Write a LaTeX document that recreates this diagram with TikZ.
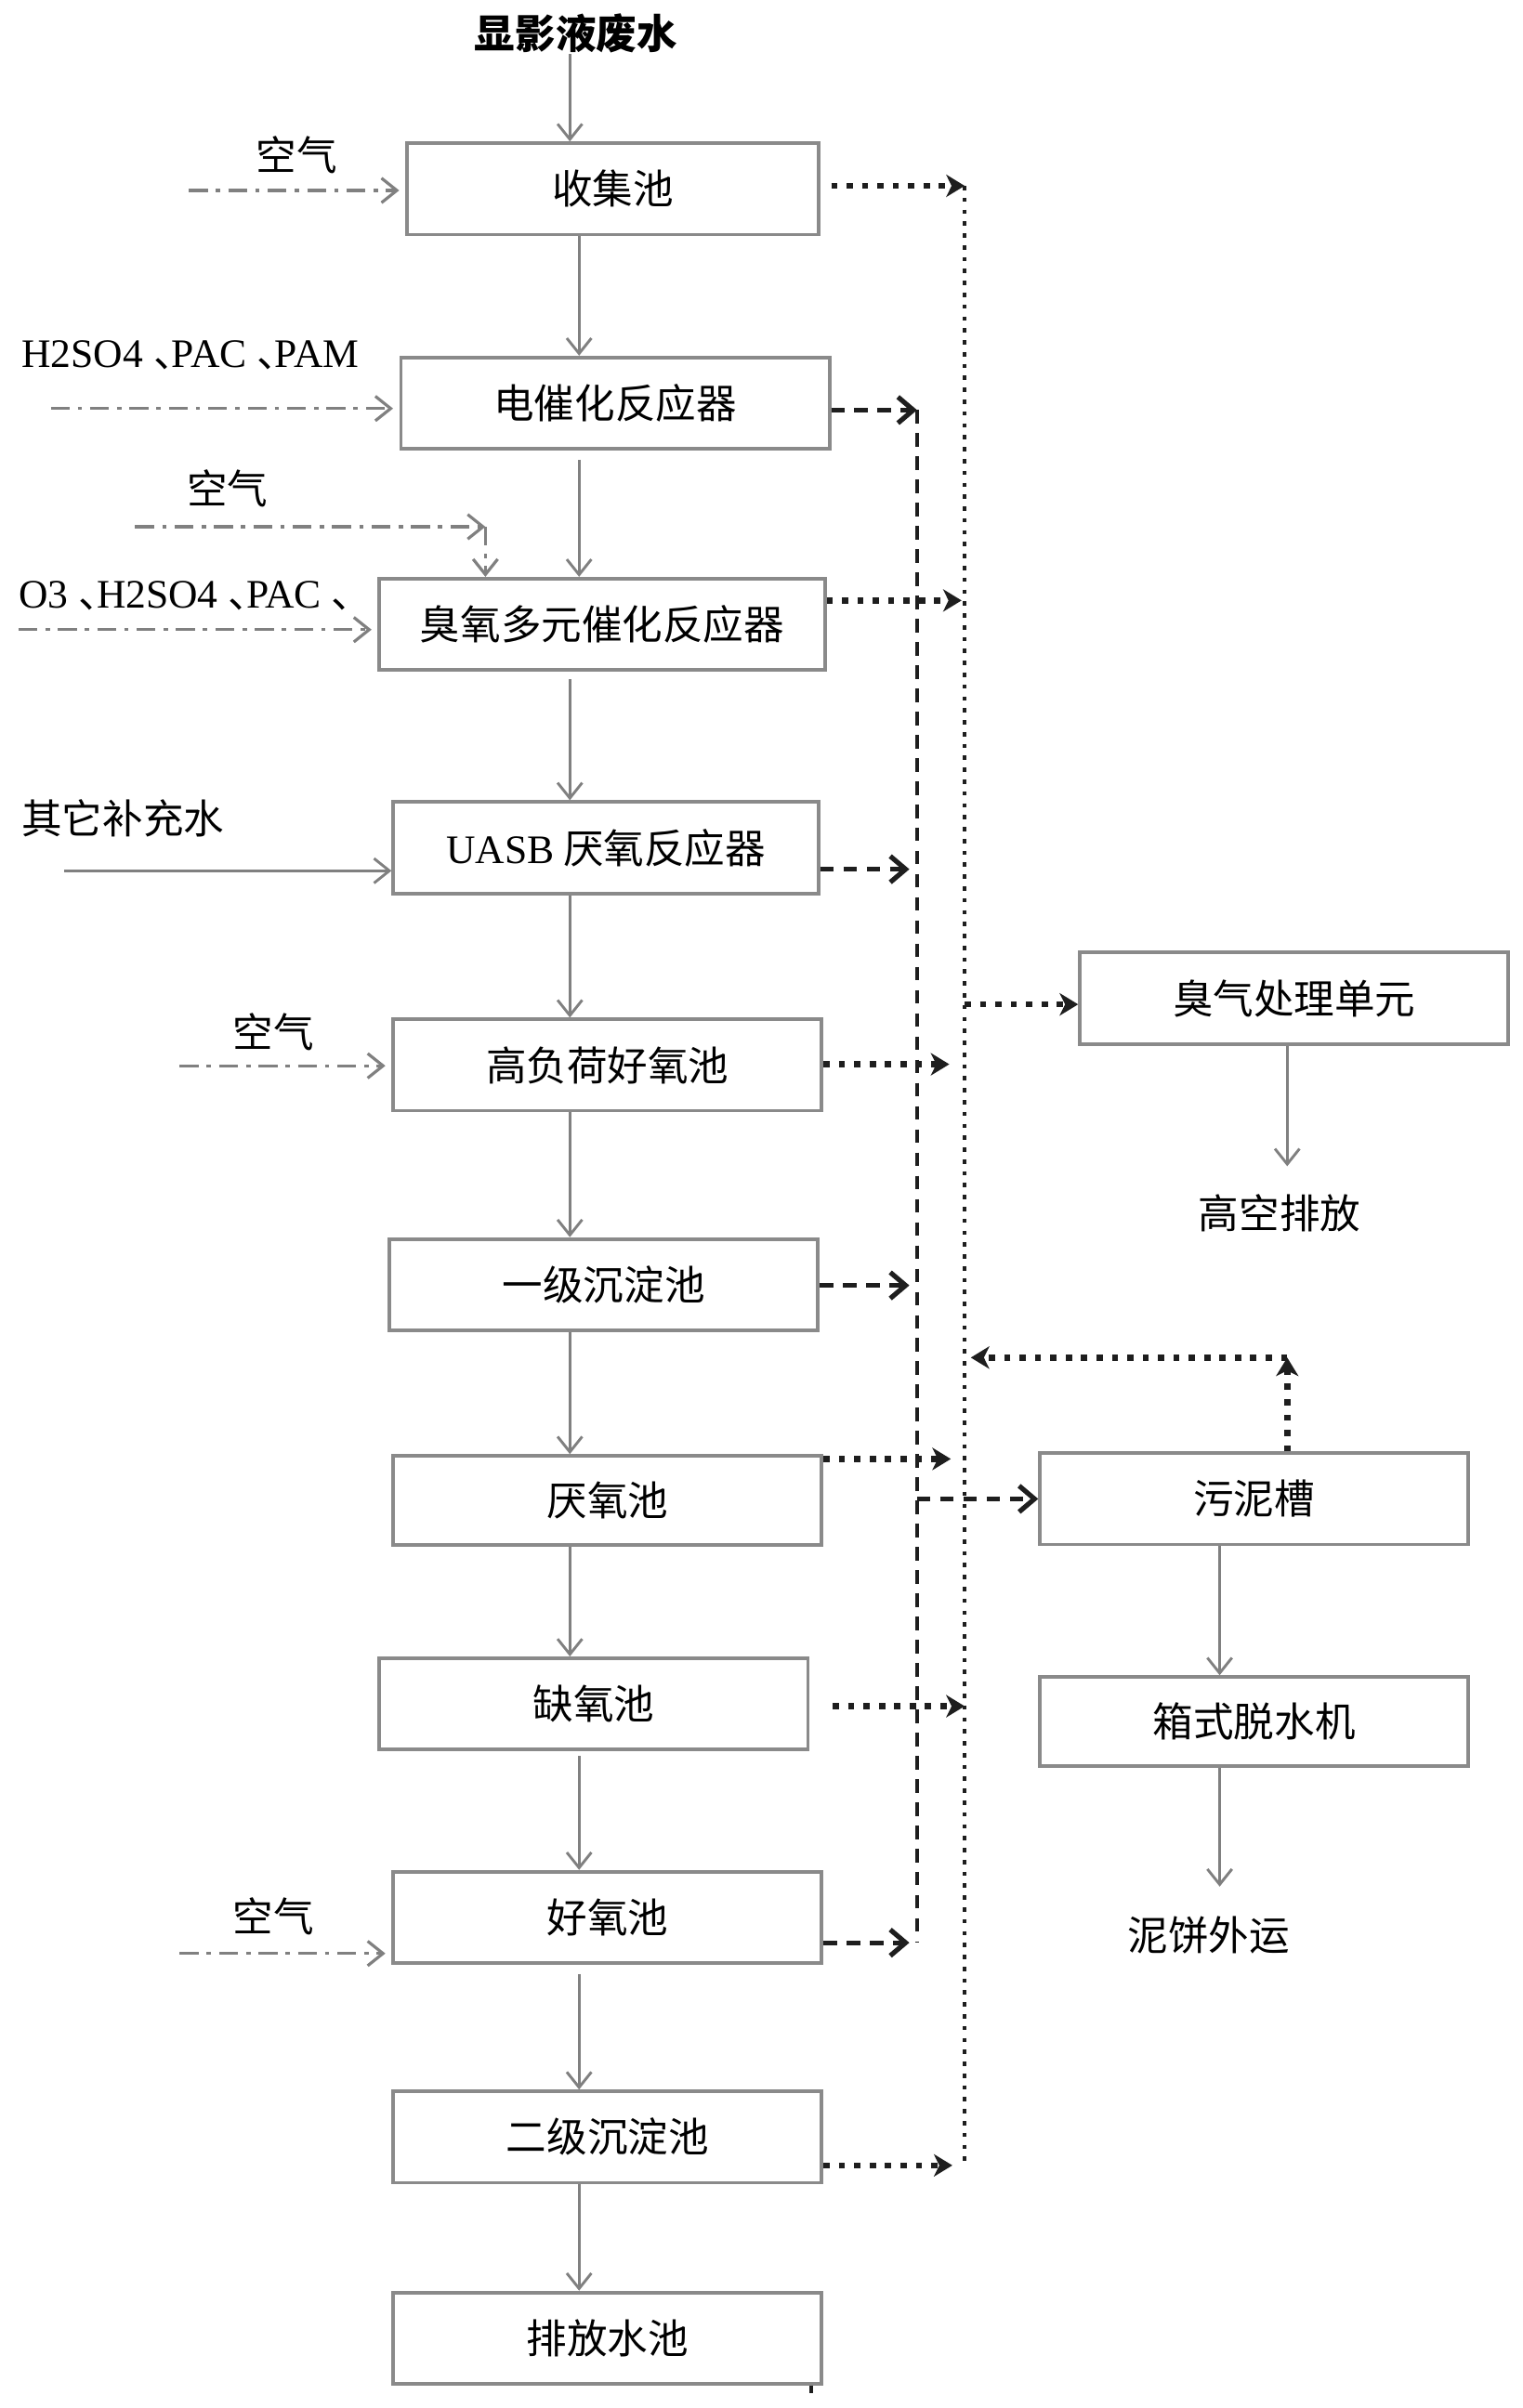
\documentclass[tikz,border=0pt]{standalone}
\usepackage{fontspec}
\setmainfont{Noto Sans CJK SC}
\newfontfamily\romanfam{Liberation Serif}
\usetikzlibrary{arrows.meta}

\definecolor{linegray}{RGB}{128,128,128}
\definecolor{boxgray}{RGB}{138,138,138}
\definecolor{darkline}{RGB}{30,30,30}
% narrow enumeration comma
\newcommand\dun{\makebox[0.45em][l]{、}}

\begin{document}
\begin{tikzpicture}
    [x=0.02cm, y=-0.02cm,
    % Process tanks
    tank/.style={rectangle, draw=boxgray, line width=1.3pt, minimum width=5.58cm, minimum height=1.19cm, inner sep=0pt, font=\fontsize{15}{18}\selectfont},
    % Free texts (inputs and outputs)
    note/.style={inner sep=0pt, font=\fontsize{15}{18}\selectfont},
    % Water flow
    flow/.style={draw=linegray, line width=1pt, -{Straight Barb[length=2mm,width=3.2mm]}},
    % Dosing of air and chemicals
    dosing/.style={flow, line width=1.1pt, dash pattern=on 7pt off 3pt on 1.6pt off 3pt, shorten >=0.08cm},
    % Sludge lines
    sludgeline/.style={draw=darkline, line width=1.8pt, dash pattern=on 5pt off 3.6pt, -{Straight Barb[length=2mm,width=3.4mm]}},
    sludgebus/.style={draw=darkline, line width=1.4pt, dash pattern=on 5pt off 3.6pt},
    % Odour gas lines
    gasline/.style={draw=darkline, line width=2.3pt, dash pattern=on 2.3pt off 3.4pt, -{Stealth[length=2.4mm,width=2.9mm,inset=0.7mm]}},
    gasbus/.style={draw=darkline, line width=1.6pt, dash pattern=on 1.6pt off 2.8pt}]
    \useasboundingbox (0,0) rectangle (991,1568);

    % Main treatment line
    \node [note, font=\fontsize{15}{18}\selectfont\bfseries] (title) at (375,22) {显影液废水};
    \node [tank, minimum width=5.36cm] (collect) at (399,123)    {收集池};
    \node [tank]                       (elec)    at (400.5,262.5) {电催化反应器};
    \node [tank, minimum width=5.8cm]  (ozone)   at (392,406.5)  {臭氧多元催化反应器};
    \node [tank, minimum width=5.54cm] (uasb)    at (394.5,552)  {{\romanfam UASB} 厌氧反应器};
    \node [tank]                       (highaer) at (395.5,693.5) {高负荷好氧池};
    \node [tank]                       (sed1)    at (393,836.5)  {一级沉淀池};
    \node [tank, minimum height=1.16cm] (anaer)  at (395.5,977)  {厌氧池};
    \node [tank]                       (anox)    at (386.5,1109.5) {缺氧池};
    \node [tank]                       (aer)     at (395.5,1248.5) {好氧池};
    \node [tank]                       (sed2)    at (395.5,1391.5) {二级沉淀池};
    \node [tank]                       (outlet)  at (395.5,1522.5) {排放水池};

    % Odour and sludge treatment
    \node [tank]                        (odor)   at (842.5,650)  {臭气处理单元};
    \node [note]                        (vent)   at (833,790)    {高空排放};
    \node [tank]                        (sludge) at (816.5,976)  {污泥槽};
    \node [tank, minimum height=1.16cm] (press)  at (816.5,1121) {箱式脱水机};
    \node [note]                        (cake)   at (787,1260)   {泥饼外运};

    % Inputs
    \node [note] (air1)   at (193,101) {空气};
    \node [note] (dose1)  at (124,231) {{\romanfam H2SO4 }\dun{\romanfam PAC }\dun{\romanfam PAM}};
    \node [note] (air2)   at (148,318) {空气};
    \node [note] (dose2)  at (120,388) {{\romanfam O3 }\dun{\romanfam H2SO4 }\dun{\romanfam PAC }\dun};
    \node [note] (supply) at (80,533)  {其它补充水};
    \node [note] (air3)   at (178,672) {空气};
    \node [note] (air4)   at (178,1248) {空气};

    % Columns, free ends and bus taps
    \coordinate (c1) at (371,0);
    \coordinate (c2) at (377,0);
    \coordinate (in1) at (123,124);
    \coordinate (in2) at (33,266);
    \coordinate (in3) at (88,343);
    \coordinate (bend) at (316,343);
    \coordinate (in4) at (12,410);
    \coordinate (in5) at (42,567);
    \coordinate (in6) at (117,694);
    \coordinate (in7) at (117,1272);
    \coordinate (g1) at (628,121);
    \coordinate (g2) at (628,391);
    \coordinate (g3) at (628,693);
    \coordinate (g4) at (628,950);
    \coordinate (g5) at (628,1111);
    \coordinate (g6) at (628,1410);
    \coordinate (godor) at (628,654);
    \coordinate (gret) at (628,884);
    \coordinate (ret) at (838,884);
    \coordinate (s1) at (597,267);
    \coordinate (s2) at (597,566);
    \coordinate (s3) at (597,837);
    \coordinate (s4) at (597,1265);
    \coordinate (ssl) at (597,976);

    % Water flow
    \draw [flow] (title.south -| c1) -- (collect.north -| c1);
    \draw [flow] (collect.south -| c2) -- (elec.north -| c2);
    \draw [flow, shorten <=0.12cm] (elec.south -| c2) -- (ozone.north -| c2);
    \draw [flow, shorten <=0.1cm] (ozone.south -| c1) -- (uasb.north -| c1);
    \draw [flow] (uasb.south -| c1) -- (highaer.north -| c1);
    \draw [flow] (highaer.south -| c1) -- (sed1.north -| c1);
    \draw [flow] (sed1.south -| c1) -- (anaer.north -| c1);
    \draw [flow] (anaer.south -| c1) -- (anox.north -| c1);
    \draw [flow, shorten <=0.06cm] (anox.south -| c2) -- (aer.north -| c2);
    \draw [flow, shorten <=0.12cm] (aer.south -| c2) -- (sed2.north -| c2);
    \draw [flow] (sed2.south -| c2) -- (outlet.north -| c2);
    \draw [flow, shorten >=0.36cm] (odor.south -| ret) -- (vent.north -| ret);
    \draw [flow] (sludge.south) ++(-0.45cm,0) coordinate (p1) -- (press.north -| p1);
    \draw [flow, shorten >=0.38cm] (press.south -| p1) -- (cake.north -| p1);

    % Air and chemicals
    \draw [dosing] (in1) -- (collect.west |- in1);
    \draw [dosing] (in2) -- (elec.west |- in2);
    \draw [dosing, shorten >=0pt] (in3) -- (bend);
    \draw [dosing, shorten >=0pt] (bend) -- (ozone.north -| bend);
    \draw [dosing] (in4) -- (ozone.west |- in4);
    \draw [flow] (in5) -- (uasb.west |- in5);
    \draw [dosing] (in6) -- (highaer.west |- in6);
    \draw [dosing] (in7) -- (aer.west |- in7);

    % Sludge collection
    \draw [sludgebus] (s1) -- (s4);
    \draw [sludgeline] (elec.east |- s1) -- (s1);
    \draw [sludgeline, shorten >=0.1cm] (uasb.east |- s2) -- (s2);
    \draw [sludgeline, shorten >=0.1cm] (sed1.east |- s3) -- (s3);
    \draw [sludgeline, shorten >=0.1cm] (aer.east |- s4) -- (s4);
    \draw [sludgeline] (ssl) -- (sludge.west |- ssl);

    % Odour gas collection
    \draw [gasbus] (g1) -- (g6);
    \draw [gasline, shorten <=0.14cm] (collect.east |- g1) -- (g1);
    \draw [gasline, shorten >=0.04cm] (ozone.east |- g2) -- (g2);
    \draw [gasline, shorten >=0.2cm] (highaer.east |- g3) -- (g3);
    \draw [gasline, shorten >=0.18cm] (anaer.east |- g4) -- (g4);
    \draw [gasline, shorten <=0.3cm] (anox.east |- g5) -- (g5);
    \draw [gasline, shorten >=0.16cm] (sed2.east |- g6) -- (g6);
    \draw [gasline] (godor) -- (odor.west |- godor);
    \draw [gasline] (sludge.north -| ret) -- (ret);
    \draw [gasline, shorten >=0.08cm] (ret) -- (gret);

    % Small mark under the outlet tank
    \draw [darkline, line width=1.2pt] ([xshift=-0.16cm]outlet.south east) -- ++(0,-0.1cm);
\end{tikzpicture}
\end{document}
